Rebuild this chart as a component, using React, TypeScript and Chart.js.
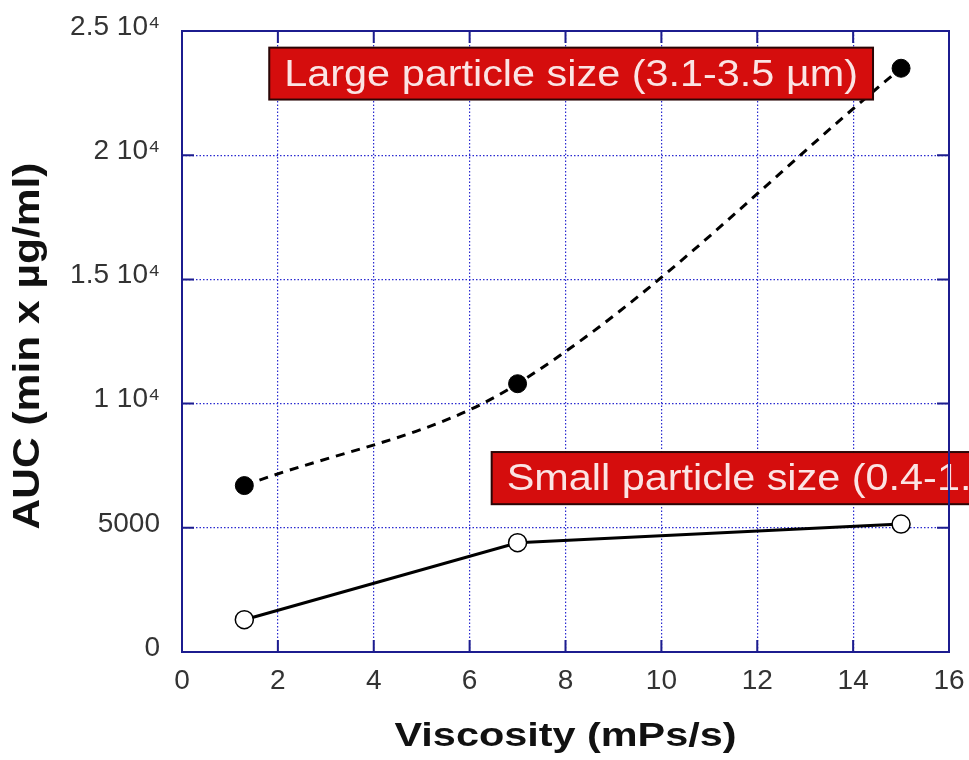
import { useEffect, useRef } from "react";
import { Chart, registerables } from "chart.js";

Chart.register(...registerables);

const viscosity = [1.3, 7, 15];
const largeAUC = [6700, 10800, 23500];
const smallAUC = [1300, 4400, 5150];
const xTickValues = [0, 2, 4, 6, 8, 10, 12, 14, 16];
const yTickValues = [0, 5000, 10000, 15000, 20000, 25000];
const yTickLabels = ["0", "5000", "1 10\u2074", "1.5 10\u2074", "2 10\u2074", "2.5 10\u2074"];
const annotationTexts = ["Large particle size (3.1-3.5 \u00b5m)", "Small particle size (0.4-1.3 \u00b5m)"];
const xTitle = "Viscosity (mPs/s)";
const yTitle = "AUC (min x \u00b5g/ml)";

const NAVY = "#1c1c8f";
const GRID = "#2a2ad0";
const FONT = "'Liberation Sans', Arial, sans-serif";

function stretchedText(ctx: any, text: string, x: number, y: number, targetW: number, rotate: boolean) {
  const w = ctx.measureText(text).width;
  ctx.save();
  ctx.translate(x, y);
  if (rotate) ctx.rotate(-Math.PI / 2);
  ctx.scale(targetW / w, 1);
  ctx.fillText(text, 0, 0);
  ctx.restore();
}

function clearPadding(s: any) {
  s.paddingTop = 0;
  s.paddingBottom = 0;
  s.paddingLeft = 0;
  s.paddingRight = 0;
}

const framePlugin = {
  id: "frame",
  afterDatasetsDraw(chart: any) {
    const { ctx, scales } = chart;
    ctx.save();
    // annotation boxes: [left, top, bottom] in data units
    const boxes = [
      [1.82, 24330, 22240],
      [6.46, 8050, 5950],
    ];
    const hScale = 1.15;
    ctx.font = `36px ${FONT}`;
    annotationTexts.forEach((t, i) => {
      const x = scales.x.getPixelForValue(boxes[i][0]);
      const y = scales.y.getPixelForValue(boxes[i][1]);
      const yb = scales.y.getPixelForValue(boxes[i][2]);
      const tw = ctx.measureText(t).width * hScale;
      const w = tw + 30;
      const h = yb - y;
      ctx.fillStyle = "#d50d0d";
      ctx.fillRect(x, y, w, h);
      ctx.lineWidth = 2;
      ctx.strokeStyle = "#2a0606";
      ctx.strokeRect(x, y, w, h);
      ctx.fillStyle = "#fbe4e4";
      ctx.textBaseline = "middle";
      ctx.textAlign = "left";
      stretchedText(ctx, t, x + 15, y + h / 2 + 2, tw, false);
    });
    ctx.restore();
  },
  afterDraw(chart: any) {
    const { ctx, chartArea: a, scales } = chart;
    ctx.save();
    ctx.strokeStyle = NAVY;
    ctx.lineWidth = 2;
    ctx.beginPath();
    const tl = 12;
    xTickValues.forEach((v) => {
      const px = scales.x.getPixelForValue(v);
      ctx.moveTo(px, a.bottom);
      ctx.lineTo(px, a.bottom - tl);
      ctx.moveTo(px, a.top);
      ctx.lineTo(px, a.top + tl);
    });
    yTickValues.forEach((v) => {
      const py = scales.y.getPixelForValue(v);
      ctx.moveTo(a.left, py);
      ctx.lineTo(a.left + tl, py);
      ctx.moveTo(a.right, py);
      ctx.lineTo(a.right - tl, py);
    });
    ctx.stroke();
    ctx.strokeRect(a.left, a.top, a.right - a.left, a.bottom - a.top);

    // axis titles
    ctx.fillStyle = "#111";
    ctx.textAlign = "left";
    ctx.textBaseline = "middle";
    ctx.font = `bold 34px ${FONT}`;
    const xw = 342;
    stretchedText(ctx, xTitle, (a.left + a.right) / 2 - xw / 2, 737, xw, false);
    ctx.font = `bold 36px ${FONT}`;
    const yw = 367;
    stretchedText(ctx, yTitle, 29, 346 + yw / 2, yw, true);
    ctx.restore();
  },
};

export default function App() {
  const ref = useRef<HTMLCanvasElement>(null);
  useEffect(() => {
    const chart = new Chart(ref.current!, {
      type: "line",
      data: {
        datasets: [
          {
            label: "Large",
            data: viscosity.map((x, i) => ({ x, y: largeAUC[i] })),
            borderColor: "#000",
            borderWidth: 3,
            borderDash: [9, 7],
            tension: 0.35,
            pointRadius: 9,
            pointBackgroundColor: "#000",
            pointBorderColor: "#000",
            pointBorderWidth: 1,
          },
          {
            label: "Small",
            data: viscosity.map((x, i) => ({ x, y: smallAUC[i] })),
            borderColor: "#000",
            borderWidth: 3,
            tension: 0,
            pointRadius: 9,
            pointBackgroundColor: "#fff",
            pointBorderColor: "#000",
            pointBorderWidth: 1.5,
          },
        ],
      },
      options: {
        animation: false,
        responsive: false,
        layout: { autoPadding: false, padding: { top: 31, right: 20, left: 0, bottom: 0 } },
        plugins: { legend: { display: false }, tooltip: { enabled: false } },
        scales: {
          x: {
            type: "linear",
            min: 0,
            max: 16,
            afterBuildTicks: (s: any) => {
              s.ticks = xTickValues.map((v) => ({ value: v }));
            },
            afterFit: (s: any) => {
              s.height = 108;
              clearPadding(s);
            },
            grid: { color: GRID, lineWidth: 1.2, drawTicks: false },
            border: { display: false, dash: [1.5, 2] },
            ticks: {
              padding: 12,
              color: "#333",
              font: { family: FONT, size: 28 },
              callback: (v: any) => String(v),
            },
          },
          y: {
            type: "linear",
            min: 0,
            max: 25000,
            afterBuildTicks: (s: any) => {
              s.ticks = yTickValues.map((v) => ({ value: v }));
            },
            afterFit: (s: any) => {
              s.width = 182;
              clearPadding(s);
            },
            grid: { color: GRID, lineWidth: 1.2, drawTicks: false },
            border: { display: false, dash: [1.5, 2] },
            ticks: {
              padding: 22,
              labelOffset: -4,
              color: "#333",
              font: { family: FONT, size: 28 },
              callback: (v: any) => {
                const i = yTickValues.indexOf(Number(v));
                return i >= 0 ? yTickLabels[i] : "";
              },
            },
          },
        },
      },
      plugins: [framePlugin],
    });
    return () => chart.destroy();
  }, []);
  return (
    <div style={{ position: "fixed", left: 0, top: 0, width: 969, height: 760, background: "#fff" }}>
      <canvas ref={ref} width={969} height={760} />
    </div>
  );
}
